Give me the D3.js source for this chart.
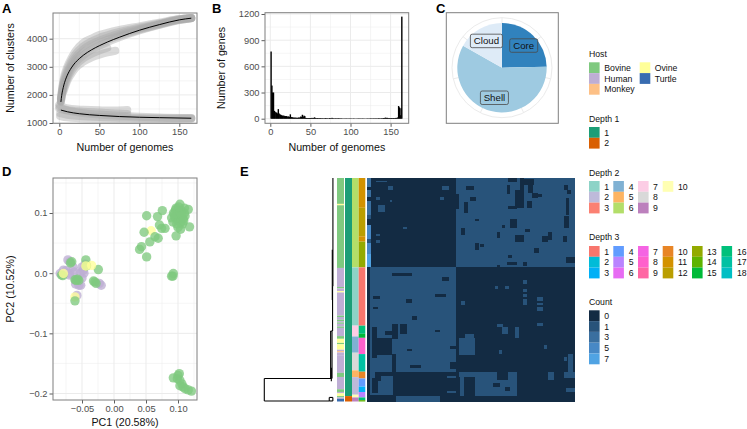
<!DOCTYPE html>
<html><head><meta charset="utf-8">
<script src="https://d3js.org/d3.v7.min.js"></script>
<style>html,body{margin:0;padding:0;background:#fff}svg{display:block}text{font-family:"Liberation Sans",Arial,sans-serif}</style>
</head><body><svg id="c" width="747" height="429"></svg>
<script>
// ---------- Panel A ----------
const panLine=[[2,1750],[3,1980],[5,2270],[8,2560],[10,2700],[15,2960],[20,3150],[25,3290],[30,3410],[40,3600],[50,3750],[60,3880],[75,4050],[100,4300],[125,4500],[150,4670],[165,4730]];
const coreLine=[[2,1460],[10,1400],[25,1330],[50,1270],[75,1230],[100,1205],[125,1190],[165,1170]];
const panBands=[
 [[2,1900],[5,2500],[10,3000],[15,3300],[20,3550],[30,3850],[40,4000],[50,4130],[60,4210],[75,4310],[100,4440],[125,4570],[150,4700],[165,4740]],
 [[2,1850],[5,2420],[10,2900],[15,3200],[20,3440],[30,3730],[40,3900],[50,4030],[60,4120],[75,4240],[100,4390],[125,4540],[150,4690],[165,4735]],
 [[2,1800],[5,2350],[10,2800],[15,3100],[20,3330],[30,3620],[40,3800],[50,3930],[60,4030],[75,4170],[100,4350],[125,4520],[150,4680],[165,4735]],
 [[2,1780],[5,2300],[10,2720],[15,3030],[20,3240],[30,3510],[40,3700],[50,3840],[60,3950],[75,4110],[100,4320],[125,4505],[150,4670],[165,4730]],
 [[2,1750],[5,2250],[10,2650],[15,2960],[20,3150],[30,3410],[40,3600],[50,3750],[60,3880],[75,4050],[100,4290],[125,4490],[150,4660],[165,4730]],
 [[5,2100],[10,2500],[15,2750],[20,2950],[30,3180],[40,3330],[50,3430],[60,3510],[70,3570]],
 [[5,2180],[10,2580],[15,2850],[20,3050],[30,3300],[40,3460],[50,3580],[60,3680]]];
const coreBands=[
 [[0,1650],[5,1560],[15,1500],[30,1470],[50,1450],[70,1445],[85,1460]],
 [[0,1580],[5,1500],[15,1440],[30,1400],[50,1370],[70,1340],[85,1320]],
 [[0,1520],[10,1440],[25,1370],[50,1300],[75,1260],[100,1225],[125,1200],[165,1180]],
 [[1,1350],[10,1290],[25,1250],[50,1210],[75,1190],[100,1180],[125,1165],[165,1165]],
 [[1,1250],[10,1200],[25,1170],[50,1150],[100,1140],[165,1150]]];
// ---------- Panel B ----------
const geneCounts=[770,380,300,300,90,80,70,70,60,110,
60,50,45,40,35,35,35,30,30,30,
25,25,25,20,50,20,18,15,12,12,
12,12,10,10,12,15,10,25,20,45,
20,35,30,10,8,8,8,8,8,8,
8,10,8,8,15,10,8,6,8,6,
6,8,6,5,6,4,6,5,8,5,
6,4,5,8,6,5,10,6,5,4,
5,6,4,5,6,5,4,5,4,3,
3,3,4,3,4,3,3,4,3,4,
3,3,3,4,3,2,3,3,3,4,
3,4,3,3,4,3,3,3,2,3,
4,3,4,3,5,4,3,5,4,4,
4,5,4,4,6,5,4,5,6,5,
8,8,10,12,8,10,8,6,8,6,
8,6,8,8,6,8,10,8,15,145,
130,40,120,1170];
// ---------- Panel C ----------
const pieLabels=["Core","Shell","Cloud"];
const pieValues=[1160,2750,790];
const pieColors=["#3182BD","#9ECAE1","#DEEBF7"];
// ---------- Panel D ----------
const pcaHost=["Human","Human","Human","Human","Human","Human","Human","Human","Human","Human",
"Human","Human","Human","Human","Human","Human","Human","Human","Human","Human","Human","Human","Human","Human",
"Bovine","Bovine","Bovine","Bovine","Bovine","Bovine","Bovine","Bovine","Bovine","Bovine","Bovine","Bovine","Bovine","Bovine",
"Ovine","Ovine","Ovine","Ovine",
"Bovine",
"Ovine",
"Bovine","Bovine","Bovine","Bovine","Bovine","Bovine","Bovine","Bovine","Bovine","Bovine","Bovine","Bovine","Bovine","Bovine","Bovine","Bovine","Bovine","Bovine","Bovine","Bovine","Bovine","Bovine",
"Bovine","Bovine","Bovine","Bovine","Bovine","Bovine","Bovine","Bovine","Bovine","Bovine","Bovine","Bovine","Bovine","Bovine","Bovine","Bovine","Bovine","Bovine","Bovine","Bovine","Bovine","Bovine",
"Bovine","Bovine","Bovine","Bovine","Bovine","Bovine","Bovine","Bovine","Bovine","Bovine","Bovine"];
const pcaX=[-0.075,-0.07,-0.062,-0.05,-0.055,-0.06,-0.047,-0.05,-0.045,-0.02,
-0.069,-0.072,-0.079,-0.069,-0.084,-0.056,-0.053,-0.048,-0.043,-0.023,-0.058,-0.052,-0.06,-0.064,
-0.059,-0.055,-0.032,-0.028,-0.068,-0.08,-0.066,-0.044,-0.0245,-0.03,-0.057,-0.061,-0.082,-0.043,
-0.079,-0.044,-0.035,-0.061,
-0.061,
0.058,
0.092,0.0755,0.051,0.068,0.047,0.071,0.0745,0.0797,0.064,0.069,0.056,0.043,0.040,0.051,0.097,0.104,0.118,0.103,0.116,0.09,0.0927,0.11,
0.09,0.093,0.096,0.099,0.102,0.105,0.108,0.111,0.092,0.095,0.098,0.101,0.104,0.107,0.11,0.094,0.097,0.1,0.103,0.106,0.101,0.109,
0.0927,0.102,0.099,0.103,0.106,0.111,0.121,0.116,0.103,0.1,0.108];
const pcaY=[0.004,-0.003,0.002,-0.008,-0.02,-0.018,0.0,0.01,0.015,-0.02,
0.019,0.022,0.005,-0.0005,-0.0005,-0.0145,-0.0005,0.005,0.013,-0.017,-0.037,-0.02,-0.012,0.01,
-0.012,-0.012,-0.013,-0.017,0.017,-0.004,0.019,0.022,0.006,-0.0145,-0.01,-0.011,-0.003,0.012,
-0.0005,0.012,0.013,-0.0395,
-0.046,
0.0705,
-0.005,0.104,0.0955,0.094,0.068,0.08,0.0745,0.0745,0.0605,0.058,0.052,0.044,0.0395,0.027,0.062,0.073,0.077,0.1145,0.106,-0.005,-0.0005,0.108,
0.092,0.1,0.105,0.088,0.097,0.104,0.09,0.095,0.085,0.093,0.082,0.09,0.084,0.082,0.1,0.098,0.108,0.076,0.102,0.096,0.11,0.087,
-0.174,-0.167,-0.1755,-0.178,-0.184,-0.192,-0.196,-0.194,-0.187,-0.17,-0.189];
// ---------- Panel E ----------
const hostRuns=[["Bovine",19],["Ovine",1],["Bovine",46],["Human",14],["Bovine",1],["Human",2],["Ovine",1],["Human",17],["Bovine",1],["Human",2],["Bovine",1],["Human",1],["Bovine",1],["Human",2],["Bovine",1],["Human",6],["Bovine",2],["Ovine",3],["Bovine",1],["Ovine",4],["Human",1],["Monkey",1],["Human",2],["Human",13],["Bovine",3],["Human",9],["Bovine",2],["Human",1],["Ovine",2],["Bovine",1],["Human",1],["Turtle",2]];
const depth1Runs=[["1",161],["2",4]];
const depth2Runs=[["6",66],["1",43],["7",8],["4",12],["8",13],["5",5],["2",13],["10",2],["9",3]];
const depth3Runs=[["11",22],["12",21],["11",4],["13",19],["1",43],["16",6],["15",3],["8",12],["17",13],["10",5],["4",6],["3",4],["5",4],["16",2],["14",1]];
const numGenomes=165;
// [firstCol,lastCol,firstRow,lastRow,count]
const heatBlocks=[
[0,70,0,65,0],[71,164,0,65,1],[0,70,66,164,1],[71,164,66,164,0],
// dark marks in upper right
[79,84,6,8,0],[112,118,0,2,0],[122,124,0,9,0],[111,113,5,11,0],[124,132,1,4,0],[128,131,4,10,0],[118,124,9,21,0],[127,130,17,21,0],[131,135,11,14,0],[157,159,5,8,0],[159,161,9,11,0],[71,72,12,22,0],[77,79,18,25,0],[82,86,14,16,0],[112,118,21,22,0],[132,138,12,13,0],[158,160,15,26,0],[86,88,30,31,0],[114,118,30,36,0],[75,77,37,41,0],[107,109,35,36,0],[103,105,40,43,0],[118,124,42,46,0],[139,143,43,46,0],[156,158,43,46,0],[86,88,48,52,0],[90,92,49,50,0],[158,161,58,62,0],[161,164,58,62,0],[111,118,62,63,0],[124,126,62,64,0],[103,105,64,65,0],[126,129,38,39,0],[144,146,40,45,0],[157,160,28,36,0],[133,136,52,54,0],[112,114,57,58,0],
// lighter marks in upper left
[7,15,2,2,1],[17,20,6,8,1],[60,64,6,8,1],[9,13,20,24,1],[58,60,14,15,1],[29,31,36,37,1],[7,9,41,42,1],[7,9,46,47,1],[18,19,16,17,1],[7,9,14,15,1],
// leading columns
[0,2,0,6,3],[0,2,7,8,0],[0,2,9,13,3],[0,2,14,16,0],[0,2,17,26,3],[0,2,27,29,1],[0,2,30,34,0],[0,2,35,44,5],[0,2,45,47,1],[0,2,48,55,5],[0,2,56,65,7],[0,1,66,164,0],
// dark marks in lower left
[4,7,110,132,0],[7,19,118,130,0],[20,24,108,118,0],[26,31,108,114,0],[20,22,130,142,0],[21,58,143,160,0],[2,22,160,164,0],[6,10,143,149,0],[11,21,143,145,0],[58,71,143,145,0],[59,63,146,160,0],[64,70,148,156,0],[58,71,159,164,0],[31,35,70,71,0],[60,64,73,75,0],[31,35,89,91,0],[5,9,87,88,0],[36,39,102,104,0],[54,62,86,87,0],[5,8,95,96,0],[54,57,112,113,0],[66,71,124,125,0],[32,35,126,127,0],[66,71,136,140,0],[34,42,138,139,0],[20,31,70,71,0],[14,24,113,115,0],[4,8,148,158,0],
// lighter marks in lower right
[73,85,118,130,1],[78,84,115,118,1],[107,111,110,114,1],[103,107,108,109,1],[118,120,110,117,1],[135,139,88,90,1],[135,139,92,93,1],[135,139,95,97,1],[124,126,75,77,1],[124,126,82,83,1],[124,126,86,87,1],[124,126,89,93,1],[135,139,107,108,1],[86,118,143,160,1],[103,111,143,148,0],[74,76,146,160,1],[73,85,143,146,1],[160,163,130,145,1],[157,164,143,147,1],[144,148,143,148,1],[157,158,132,134,1],[75,77,91,93,1],[105,106,127,129,1],[141,142,123,125,1],[102,103,80,81,1],[110,112,80,81,1],[86,93,148,160,1],[100,105,151,153,0],[110,113,154,156,0],[158,164,155,157,1]];
// [height (0 at the leaves, 1 at the root), row, height, row]
const dendroSegments=[[0.007,0,0.007,80],[0.016,53,0.016,90],[0.012,80,0.012,113],[0.02,113,0.02,148],[0.04,113,0.04,148],[0.02,113,0.04,113],[0.03,148,1,148],[1,148,1,164.6],[1,164.6,0.06,164.6],[0.06,164.6,0.06,162],[0.06,162,0.008,162],[0.008,162,0.008,164.6],[0.06,164.6,0.008,164.6],[0.03,140,0.03,150]];
// ---------- Legends ----------
const hostLabels=["Bovine","Human","Monkey","Ovine","Turtle"];
const hostColors=["#7FC97F","#BEAED4","#FDC086","#FFFF99","#386CB0"];
const depth1Labels=["1","2"];
const depth1Colors=["#1B9E77","#D95F02"];
const depth2Labels=["1","2","3","4","5","6","7","8","9","10"];
const depth2Colors=["#8DD3C7","#BEBADA","#FB8072","#80B1D3","#FDB462","#B3DE69","#FCCDE5","#D9D9D9","#BC80BD","#FFFFB3"];
const depth3Labels=["1","2","3","4","5","6","7","8","9","10","11","12","13","14","15","16","17","18"];
const depth3Colors=["#F8766D","#00BCD8","#00B0F6","#619CFF","#B983FF","#E76BF3","#F564E3","#FF61CC","#FF67A4","#E88526","#D39200","#BA9E00","#93AA00","#5EB300","#00BA38","#00C07B","#00C1A3","#00BFC4"];
const countLabels=["0","1","3","5","7"];
const countColors=["#132B43","#28537A","#3A6F9F","#4788C5","#50A3E3"];

const svg=d3.select("#c");
const TICK=9.3,TITLE=10.7,LEG=8.7;
const GRID="#ebebeb",BORDER="#7f7f7f",TC="#4d4d4d";
const hostScale=d3.scaleOrdinal(hostLabels,hostColors);

function frame(L,R,T,B,x,y,xMajor,xMinor,yMajor,yMinor,xFmt,yFmt,xTitle,yTitle,yTitleX,xTitleY,yTitleCy){
 const g=svg.append("g");
 g.append("rect").attr("x",L).attr("y",T).attr("width",R-L).attr("height",B-T).attr("fill","#fff");
 const gl=(vals,w)=>{
  g.selectAll(null).data(vals).join("line").attr("x1",d=>x(d)).attr("x2",d=>x(d)).attr("y1",T).attr("y2",B).attr("stroke",GRID).attr("stroke-width",w);
 };
 const hl=(vals,w)=>{
  g.selectAll(null).data(vals).join("line").attr("y1",d=>y(d)).attr("y2",d=>y(d)).attr("x1",L).attr("x2",R).attr("stroke",GRID).attr("stroke-width",w);
 };
 gl(xMinor,.5);hl(yMinor,.5);gl(xMajor,1);hl(yMajor,1);
 const top=svg.append("g");
 const ax=top.append("g").attr("transform",`translate(0,${B})`).call(d3.axisBottom(x).tickValues(xMajor).tickSize(3.5).tickPadding(2).tickFormat(xFmt));
 const ay=top.append("g").attr("transform",`translate(${L},0)`).call(d3.axisLeft(y).tickValues(yMajor).tickSize(3.5).tickPadding(2).tickFormat(yFmt));
 [ax,ay].forEach(a=>{a.select(".domain").remove();a.selectAll("line").attr("stroke","#333").attr("stroke-width",.8);
  a.selectAll("text").attr("fill",TC).attr("font-size",TICK).attr("font-family",'"Liberation Sans",Arial,sans-serif');});
 top.append("text").attr("x",(L+R)/2).attr("y",xTitleY).attr("text-anchor","middle").attr("font-size",TITLE).attr("fill","#111").text(xTitle);
 top.append("text").attr("transform",`translate(${yTitleX},${yTitleCy}) rotate(-90)`).attr("text-anchor","middle").attr("font-size",TITLE).attr("fill","#111").text(yTitle);
 return {g,top,border:()=>top.append("rect").attr("x",L).attr("y",T).attr("width",R-L).attr("height",B-T).attr("fill","none").attr("stroke",BORDER).attr("stroke-width",1)};
}
function tag(t,x,y){svg.append("text").attr("x",x).attr("y",y).attr("font-size",13).attr("font-weight","bold").attr("fill","#000").text(t);}

// Panel A
{
 const x=d3.scaleLinear([0,150],[59.3,179.3]),y=d3.scaleLinear([1000,4000],[123,38.7]);
 const f=frame(53,197,13,123.3,x,y,[0,50,100,150],[25,75,125],[1000,2000,3000,4000],[1500,2500,3500],d3.format("d"),d3.format("d"),"Number of genomes","Number of clusters",13.5,150.5,68);
 const ln=d3.line().x(d=>x(d[0])).y(d=>y(d[1])).curve(d3.curveMonotoneX);
 f.g.append("g").selectAll("path").data(panBands.concat(coreBands)).join("path").attr("d",ln).attr("fill","none").attr("stroke","#a8a8a8").attr("stroke-opacity",.42).attr("stroke-width",8).attr("stroke-linecap","round").attr("stroke-linejoin","round");
 f.g.selectAll(null).data([panLine,coreLine]).join("path").attr("d",ln).attr("fill","none").attr("stroke","#000").attr("stroke-width",1);
 f.border();
}
// Panel B
{
 const x=d3.scaleLinear([0,150],[270.3,390.6]),y=d3.scaleLinear([0,1200],[118.7,14]);
 const f=frame(265,408.7,12.7,123.3,x,y,[0,50,100,150],[25,75,125],[0,300,600,900,1200],[150,450,750,1050],d3.format("d"),d3.format("d"),"Number of genomes","Number of genes",225,150.5,68);
 f.g.selectAll(null).data(geneCounts).join("rect").attr("x",(d,i)=>x(i+1)-.7).attr("width",1.4).attr("y",d=>y(d)).attr("height",d=>y(0)-y(d)).attr("fill","#000");
 f.border();
}
// Panel C
{
 const cx=502,cy=67.7,R=44.7;
 const g=svg.append("g");
 g.append("rect").attr("x",446.3).attr("y",12.7).attr("width",112).attr("height",110.6).attr("fill","#fff").attr("stroke",BORDER);
 const c=g.append("g").attr("transform",`translate(${cx},${cy})`);
 const spokes=d3.range(7).map(i=>i*Math.PI*2/7);
 c.selectAll(null).data(spokes).join("line").attr("x2",d=>50*Math.sin(d)).attr("y2",d=>-50*Math.cos(d)).attr("stroke",GRID).attr("stroke-width",1);
 c.append("circle").attr("r",50).attr("fill","none").attr("stroke",GRID).attr("stroke-width",1);
 const pie=d3.pie().sort(null)(pieValues);
 const arc=d3.arc().innerRadius(0).outerRadius(R);
 c.selectAll(null).data(pie).join("path").attr("d",arc).attr("fill",(d,i)=>pieColors[i]);
 const la=d3.arc().innerRadius(31).outerRadius(31);
 pie.forEach((d,i)=>{
  const [px,py]=la.centroid(d),w=i==2?32:28,h=13.5;
  c.append("rect").attr("x",px-w/2).attr("y",py-h/2).attr("width",w).attr("height",h).attr("rx",1.8).attr("fill",pieColors[i]).attr("stroke","#4a4a4a").attr("stroke-width",.8);
  c.append("text").attr("x",px).attr("y",py+3.4).attr("text-anchor","middle").attr("font-size",9.7).attr("fill","#111").text(pieLabels[i]);
 });
}
// Panel D
{
 const x=d3.scaleLinear([0,0.1],[114,178]),y=d3.scaleLinear([-0.2,0.1],[393.5,213]);
 const f=frame(53,197,178,400,x,y,[-0.05,0,0.05,0.1],[-0.075,-0.025,0.025,0.075,0.125],[-0.2,-0.1,0,0.1],[-0.15,-0.05,0.05,0.15],d3.format(".2f"),d3.format(".1f"),"PC1 (20.58%)","PC2 (10.52%)",13.5,426,289);
 f.g.selectAll(null).data(pcaX).join("circle").attr("cx",d=>x(d)).attr("cy",(d,i)=>y(pcaY[i])).attr("r",4.7).attr("fill",(d,i)=>hostScale(pcaHost[i])).attr("fill-opacity",.78);
 f.border();
}
// Panel E
{
 const total=numGenomes;
 const ry=d3.scaleLinear([0,total],[178,401.5]);
 const cx=d3.scaleLinear([0,total],[367,574.5]);
 const cnt=d3.scaleOrdinal(countLabels.map(Number),countColors);
 svg.append("g").attr("shape-rendering","crispEdges").selectAll("rect").data(heatBlocks).join("rect")
  .attr("x",d=>cx(d[0])).attr("width",d=>cx(d[1]+1)-cx(d[0]))
  .attr("y",d=>ry(d[2])).attr("height",d=>ry(d[3]+1)-ry(d[2]))
  .attr("fill",d=>cnt(d[4]));
 const runs=(data,color,x0,x1)=>{
  let s=0;const total2=d3.sum(data,d=>d[1]);
  const sc=d3.scaleLinear([0,total2],[178,401.5]);
  const g=svg.append("g");
  data.forEach(d=>{g.append("rect").attr("x",x0).attr("width",x1-x0).attr("y",sc(s)).attr("height",sc(s+d[1])-sc(s)).attr("fill",color(d[0]));s+=d[1];});
 };
 runs(hostRuns,hostScale,337,344);
 runs(depth1Runs,d3.scaleOrdinal(depth1Labels,depth1Colors),345,352);
 runs(depth2Runs,d3.scaleOrdinal(depth2Labels,depth2Colors),352,358.7);
 runs(depth3Runs,d3.scaleOrdinal(depth3Labels,depth3Colors),358.7,365.3);
 const hx=d3.scaleLinear([0,1],[333.4,264.3]);
 svg.append("g").selectAll("line").data(dendroSegments).join("line")
  .attr("x1",d=>hx(d[0])).attr("y1",d=>ry(d[1])).attr("x2",d=>hx(d[2])).attr("y2",d=>ry(d[3]))
  .attr("stroke","#000").attr("stroke-width",1.1);
}
// Legends
function legend(title,labels,colors,titleY,rowsTop,cols){
 const rh=10.8;
 svg.append("text").attr("x",589).attr("y",titleY+3).attr("font-size",LEG).attr("fill","#111").text(title);
 let i=0;
 cols.forEach(c=>{
  for(let r=0;r<c[2];r++,i++){
   svg.append("rect").attr("x",c[0]).attr("y",rowsTop+r*rh).attr("width",10.6).attr("height",rh).attr("fill",colors[i]);
   svg.append("text").attr("x",c[1]).attr("y",rowsTop+r*rh+rh/2+3.1).attr("font-size",LEG).attr("fill","#111").text(labels[i]);
  }
 });
}
legend("Host",hostLabels,hostColors,54,62.3,[[589,604.3,3],[639.7,654.7,2]]);
legend("Depth 1",depth1Labels,depth1Colors,118.5,127,[[589,604.3,2]]);
legend("Depth 2",depth2Labels,depth2Colors,172.7,181,[[589,604.3,3],[613.3,628.7,3],[638,653,3],[662.7,678,1]]);
legend("Depth 3",depth3Labels,depth3Colors,237.3,246,[[589,604.3,3],[613.3,628.7,3],[638,653,3],[662.7,678,3],[692,707,3],[721.5,737,3]]);
legend("Count",countLabels,countColors,302,310.3,[[589,604.3,5]]);
tag("A",2,13);tag("B",212,13);tag("C",436,13);tag("D",2,176);tag("E",240,176);
</script></body></html>
